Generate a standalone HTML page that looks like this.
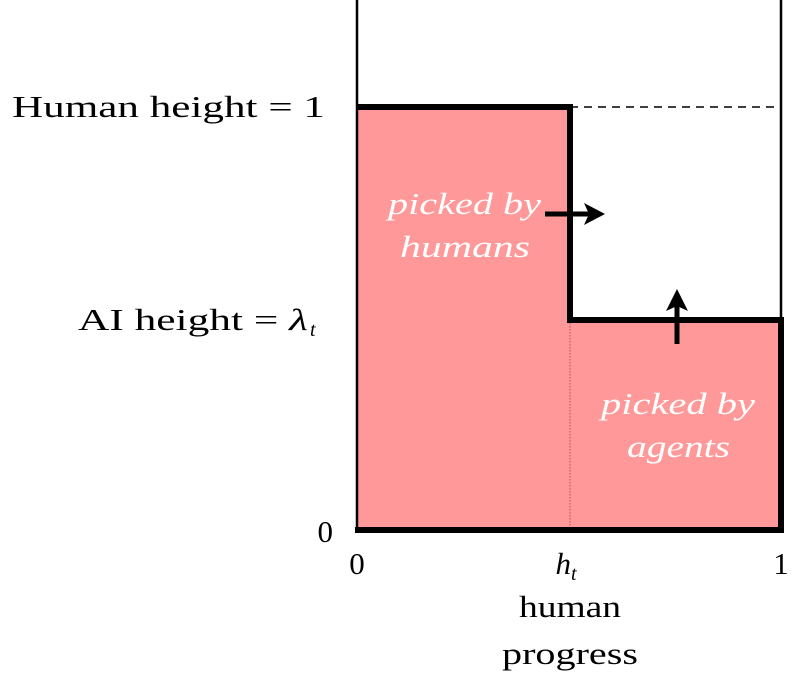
<!DOCTYPE html>
<html><head><meta charset="utf-8"><style>html,body{margin:0;padding:0;background:#fff}</style></head>
<body>
<svg width="807" height="686" viewBox="0 0 807 686" xmlns="http://www.w3.org/2000/svg" font-family="'Liberation Serif', serif">
<rect x="357" y="107" width="213" height="423" fill="#ff9999"/>
<rect x="570" y="320" width="211" height="210" fill="#ff9999"/>
<line x1="570" y1="320" x2="570" y2="530" stroke="#b05050" stroke-width="1" stroke-dasharray="1.5,1.5"/>
<line x1="357" y1="0" x2="357" y2="530" stroke="#000" stroke-width="2.5"/>
<line x1="781" y1="0" x2="781" y2="320" stroke="#000" stroke-width="2.5"/>
<line x1="570" y1="107" x2="781" y2="107" stroke="#000" stroke-width="1.5" stroke-dasharray="8,6"/>
<polyline points="357,107 570,107 570,320 781,320 781,530" fill="none" stroke="#000" stroke-width="6"/>
<line x1="355" y1="530" x2="784" y2="530" stroke="#000" stroke-width="6"/>
<line x1="545" y1="214" x2="592" y2="214" stroke="#000" stroke-width="5"/>
<path d="M584,203 L605,214 L584,225 L589,214 Z" fill="#000"/>
<line x1="677" y1="344" x2="677" y2="302" stroke="#000" stroke-width="5"/>
<path d="M666,311 L677,289 L688,311 L677,306 Z" fill="#000"/>
<g font-size="31" fill="#000">
<text x="12" y="117" textLength="313" lengthAdjust="spacingAndGlyphs">Human height = 1</text>
<text x="78" y="330" textLength="230" lengthAdjust="spacingAndGlyphs">AI height = <tspan font-style="italic">λ</tspan></text>
<text x="310" y="336" font-size="20" font-style="italic">t</text>
<text x="333" y="542" text-anchor="end">0</text>
<text x="357" y="574" text-anchor="middle">0</text>
<text x="566" y="574" text-anchor="middle" font-style="italic">h<tspan font-size="20" dy="6">t</tspan></text>
<text x="781" y="574" text-anchor="middle">1</text>
<text x="519" y="617" textLength="102" lengthAdjust="spacingAndGlyphs">human</text>
<text x="502" y="664" textLength="136" lengthAdjust="spacingAndGlyphs">progress</text>
</g>
<g font-size="31" fill="#fff" font-style="italic">
<text x="388" y="214" textLength="153" lengthAdjust="spacingAndGlyphs">picked by</text>
<text x="400" y="257" textLength="130" lengthAdjust="spacingAndGlyphs">humans</text>
<text x="601" y="414" textLength="154" lengthAdjust="spacingAndGlyphs">picked by</text>
<text x="627" y="457" textLength="103" lengthAdjust="spacingAndGlyphs">agents</text>
</g>
</svg>
</body></html>
